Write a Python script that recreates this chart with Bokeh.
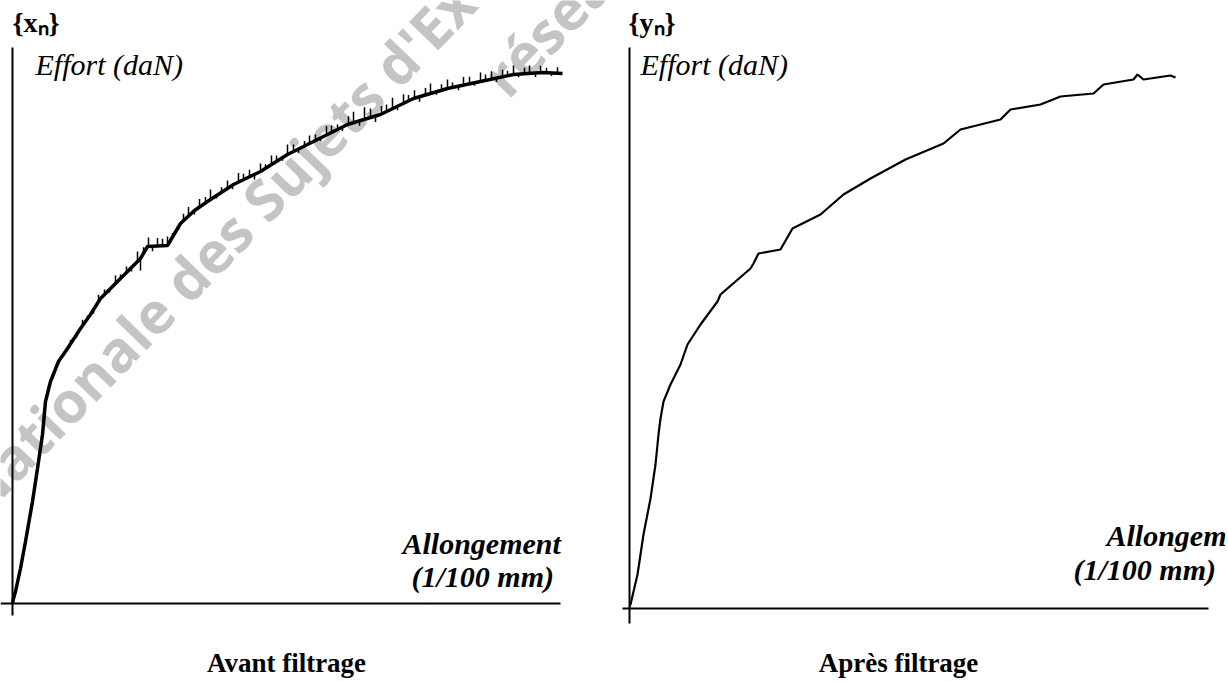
import numpy as np
from bokeh.plotting import figure
from bokeh.layouts import row
from bokeh.models import Label, FixedTicker, Range1d
from bokeh.embed import file_html
from bokeh.resources import INLINE

# ---- data (arbitrary units) ----
avant_x = [0, 1, 3, 8, 13, 20, 25, 30, 33, 38, 46, 55, 68, 78, 88, 105, 118, 128, 135,
           155, 168, 182, 195, 221, 248, 275, 301, 335, 368, 401, 435, 468, 501, 530, 550]
avant_y = [0, 5, 12, 35, 62, 102, 135, 169, 202, 222, 242, 255, 275, 289, 305, 322, 335, 345, 357,
           358, 380, 393, 402, 419, 432, 449, 462, 479, 489, 505, 515, 522, 529, 531, 530]

# noise spikes on the raw signal (position, amplitude)
spike_x = [58, 64, 70, 75, 81, 86, 92, 97, 103, 108,
           114, 119, 125, 128, 131, 136, 140, 145, 150, 155,
           160, 166, 171, 176, 182, 187, 193, 198, 204, 209,
           215, 220, 226, 231, 237, 242, 248, 253, 259, 264,
           270, 275, 281, 286, 292, 297, 303, 308, 314, 319,
           325, 330, 336, 341, 347, 352, 358, 363, 369, 374,
           380, 385, 391, 396, 402, 407, 413, 418, 424, 429,
           435, 440, 446, 451, 457, 462, 468, 473, 479, 484,
           490, 495, 501, 506, 512, 517, 523, 528, 534, 539,
           545]
spike_h = [4, -3, 6, 3, -4, 7, 5, -3, 8, 4,
           6, -4, 10, -12, 6, 9, -5, 8, 7, 9,
           4, -3, 7, 9, -4, 8, 6, 10, -3, 5,
           8, -4, 9, 6, 7, -5, 8, 4, 9, 6,
           -3, 10, 7, -4, 5, 8, 6, -3, 9, 7,
           5, -4, 8, 11, -5, 12, 9, -6, 8, 7,
           11, -4, 9, 6, 8, -5, 7, 10, -3, 6,
           9, 5, -4, 8, 7, -3, 9, 6, 8, -4,
           7, 5, 9, -3, 6, 8, -4, 7, 5, -3,
           6]

apres_x = [0, 1, 8, 14, 21, 26, 29, 31, 34, 41, 51, 58, 71, 88, 91, 121, 124, 129, 151, 163,
           191, 214, 241, 276, 314, 331, 371, 381, 411, 431, 464, 474, 504, 508, 514, 541, 546]
apres_y = [2, 4, 34, 74, 110, 144, 174, 190, 207, 224, 244, 264, 284, 307, 314, 340, 345, 355,
           359, 380, 394, 414, 430, 449, 465, 479, 489, 499, 504, 512, 515, 524, 529, 534, 529,
           533, 531]

SERIF = "Liberation Serif"


def base_fig(fw, fh, xr, yr, xb, yb):
    p = figure(frame_width=fw, frame_height=fh, x_range=Range1d(*xr), y_range=Range1d(*yr),
               output_backend="svg", toolbar_location=None, tools="",
               min_border=0)
    p.outline_line_color = None
    p.grid.visible = False
    p.background_fill_color = "white"
    p.border_fill_color = "white"
    for ax, b in ((p.xaxis[0], xb), (p.yaxis[0], yb)):
        ax.fixed_location = 0
        ax.bounds = b
        ax.ticker = FixedTicker(ticks=[])
        ax.major_tick_line_color = None
        ax.minor_tick_line_color = None
        ax.major_tick_out = 0
        ax.major_tick_in = 0
        ax.major_label_standoff = 0
        ax.major_label_text_font_size = "0px"
        ax.axis_line_width = 2
        ax.axis_line_color = "black"
    return p


def lab(p, x, y, txt, size, style, align="left"):
    p.add_layout(Label(x=x, y=y, text=txt, text_font=SERIF, text_font_size=size,
                       text_font_style=style, text_color="black", text_align=align,
                       text_baseline="alphabetic"))


# ---- left: before filtering ----
p1 = base_fig(612, 680, (-12, 600), (-77, 603), (-12, 548), (-12, 556))
lab(p1, 0, 581, "{xₙ}", "28px", "bold")
lab(p1, 23, 539, "Effort (daN)", "30px", "italic")
lab(p1, 390, 60, "Allongement", "30px", "bold italic")
lab(p1, 399, 27, "(1/100 mm)", "30px", "bold italic")
lab(p1, 274, -59, "Avant filtrage", "27px", "bold", "center")

wm_font = "Open Sans"
p1.add_layout(Label(x=-17, y=73, text="Nationale des Sujets d'Ex", angle=0.80,
                    text_font=wm_font, text_font_size="57px", text_font_style="bold",
                    text_color="#c4c4c4", level="underlay"))
p1.add_layout(Label(x=508, y=491, text="réseau", angle=0.80,
                    text_font=wm_font, text_font_size="57px", text_font_style="bold",
                    text_color="#c4c4c4", level="underlay"))

p1.line(avant_x, avant_y, line_color="black", line_width=3.5)
base = np.interp(spike_x, avant_x, avant_y)
p1.segment(x0=spike_x, y0=base, x1=spike_x, y1=base + np.array(spike_h),
           line_color="black", line_width=1.5)

# ---- right: after filtering ----
p2 = base_fig(614, 680, (-17, 597), (-72, 608), (-7, 579), (-15, 561))
lab(p2, -1, 586, "{yₙ}", "28px", "bold")
lab(p2, 11, 544, "Effort (daN)", "30px", "italic")
lab(p2, 477, 73, "Allongement", "30px", "bold italic")
lab(p2, 444, 39, "(1/100 mm)", "30px", "bold italic")
lab(p2, 269, -54, "Après filtrage", "27px", "bold", "center")
p2.line(apres_x, apres_y, line_color="black", line_width=2.2)

layout = row(p1, p2, spacing=0)
open("out.html", "w").write(file_html(layout, INLINE))
